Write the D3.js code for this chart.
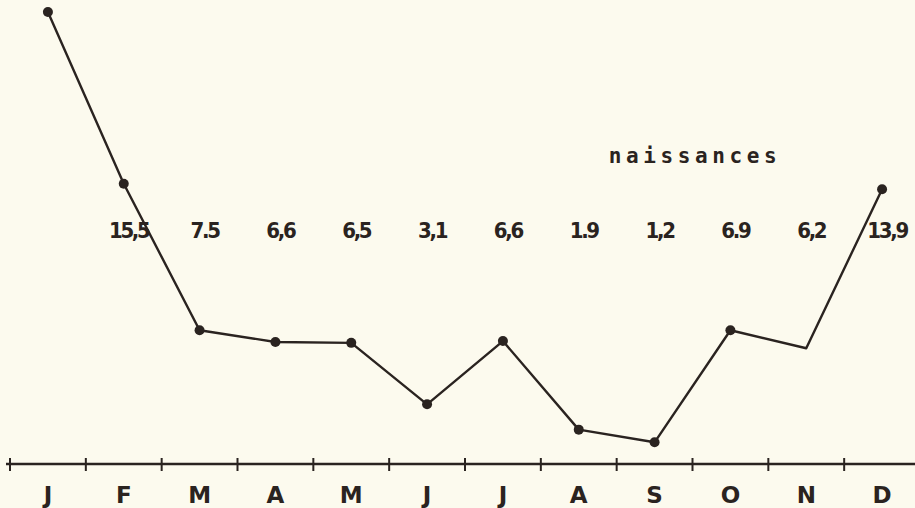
<!DOCTYPE html>
<html>
<head>
<meta charset="utf-8">
<script src="https://cdn.jsdelivr.net/npm/d3@7"></script>
<style>
  html, body { margin: 0; padding: 0; background: #fcfaee; }
  svg { display: block; }
</style>
</head>
<body>
<svg id="chart" width="915" height="508"></svg>
<script>
// Months (axis tick labels)
const months = ["J", "F", "M", "A", "M", "J", "J", "A", "S", "O", "N", "D"];
// Plotted values (naissances)
const values = [25.0, 15.5, 7.4, 6.75, 6.7, 3.3, 6.8, 1.9, 1.2, 7.4, 6.4, 15.2];
// Value labels printed above the curve
const valueLabels = ["", "15,5", "7.5", "6,6", "6,5", "3,1", "6,6", "1.9", "1,2", "6.9", "6,2", "13,9"];
// Whether a dot marker is drawn at the month
const hasDot = [true, true, true, true, true, true, true, true, true, true, false, true];
const seriesTitle = "naissances";

const W = 915, H = 508;
const ink = "#2a2320";
const svg = d3.select("#chart");

const idx = d3.range(months.length);
const x = d3.scaleBand().domain(idx).range([10, 920]).padding(0);
const y = d3.scaleLinear().domain([0, 25]).range([464, 12]);
const cx = i => x(i) + x.bandwidth() / 2;

// Axis baseline
svg.append("line")
  .attr("x1", 6).attr("x2", W)
  .attr("y1", y(0)).attr("y2", y(0))
  .attr("stroke", ink).attr("stroke-width", 2.6);

// Ticks at month boundaries
svg.append("g").selectAll("line").data(idx).join("line")
  .attr("x1", i => x(i)).attr("x2", i => x(i))
  .attr("y1", y(0) - 6).attr("y2", y(0) + 7)
  .attr("stroke", ink).attr("stroke-width", 2);

// Month letters
svg.append("g").selectAll("text").data(idx).join("text")
  .attr("x", i => cx(i))
  .attr("y", 503)
  .attr("text-anchor", "middle")
  .attr("font-family", "'DejaVu Sans', sans-serif")
  .attr("font-weight", "bold")
  .attr("font-size", 23)
  .attr("fill", ink)
  .text(i => months[i]);

// Line
const line = d3.line().x(i => cx(i)).y(i => y(values[i]));
svg.append("path")
  .datum(idx)
  .attr("d", line)
  .attr("fill", "none")
  .attr("stroke", ink)
  .attr("stroke-width", 2.4)
  .attr("stroke-linejoin", "round");

// Dots
svg.append("g").selectAll("circle").data(idx.filter(i => hasDot[i])).join("circle")
  .attr("cx", i => cx(i))
  .attr("cy", i => y(values[i]))
  .attr("r", 5)
  .attr("fill", ink);

// Value labels
svg.append("g").selectAll("text").data(idx.filter(i => valueLabels[i] !== "")).join("text")
  .attr("x", i => cx(i) + 5)
  .attr("y", 238)
  .attr("text-anchor", "middle")
  .attr("font-family", "'DejaVu Sans Condensed', 'DejaVu Sans', sans-serif")
  .attr("font-stretch", "condensed")
  .attr("font-weight", "bold")
  .attr("font-size", 22)
  .attr("letter-spacing", -2.3)
  .attr("fill", ink)
  .text(i => valueLabels[i]);

// Series title
svg.append("text")
  .attr("x", 695)
  .attr("y", 163)
  .attr("text-anchor", "middle")
  .attr("font-family", "'DejaVu Sans Mono', monospace")
  .attr("font-weight", "bold")
  .attr("font-size", 21)
  .attr("letter-spacing", 4.6)
  .attr("fill", ink)
  .text(seriesTitle);
</script>
</body>
</html>
